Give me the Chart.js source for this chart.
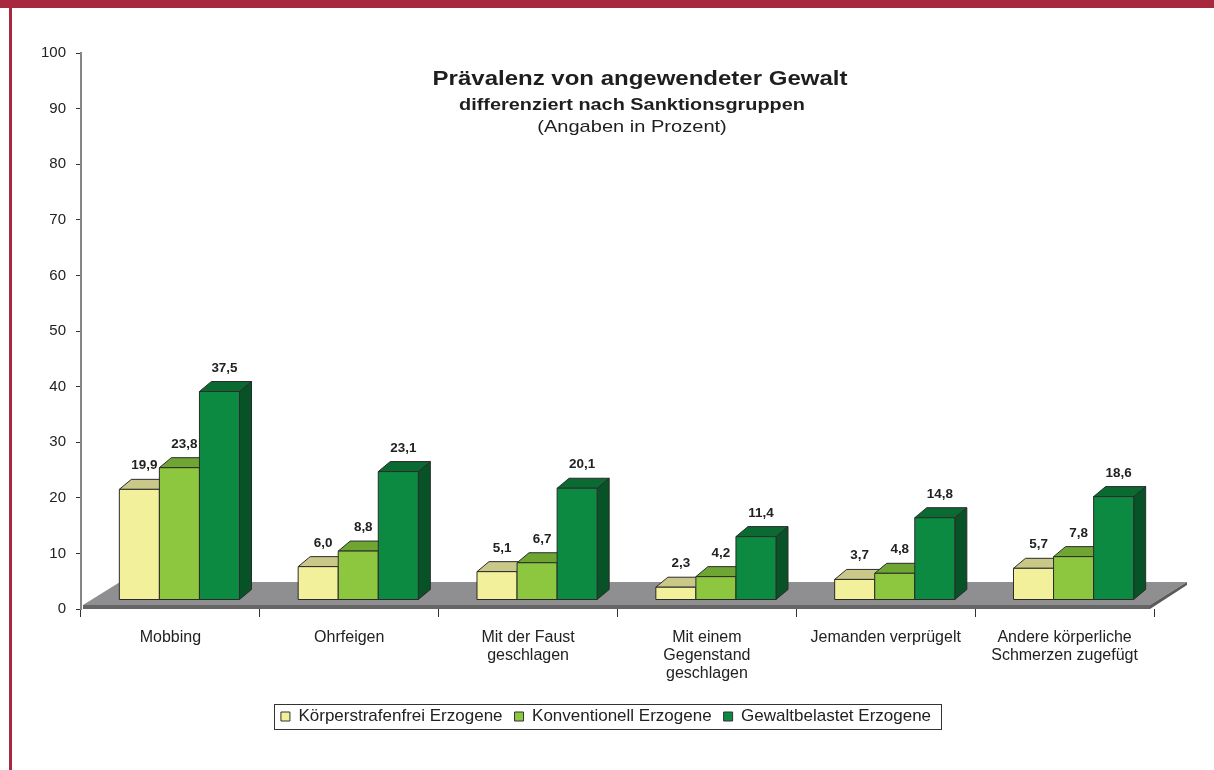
<!DOCTYPE html>
<html>
<head>
<meta charset="utf-8">
<script src="https://cdn.jsdelivr.net/npm/chart.js@4.4.1/dist/chart.umd.min.js"></script>
<style>
html,body{margin:0;padding:0;background:#fff;}
#wrap{position:relative;width:1214px;height:770px;}
canvas{display:block;}
</style>
</head>
<body>
<div id="wrap"><canvas id="c" width="1214" height="770"></canvas></div>
<script>
// ---- data ----
const categories = [
  'Mobbing',
  'Ohrfeigen',
  ['Mit der Faust', 'geschlagen'],
  ['Mit einem', 'Gegenstand', 'geschlagen'],
  'Jemanden verprügelt',
  ['Andere körperliche', 'Schmerzen zugefügt']
];
const seriesNames = ['Körperstrafenfrei Erzogene', 'Konventionell Erzogene', 'Gewaltbelastet Erzogene'];
const koerperstrafenfrei = [19.9, 6.0, 5.1, 2.3, 3.7, 5.7];
const konventionell      = [23.8, 8.8, 6.7, 4.2, 4.8, 7.8];
const gewaltbelastet     = [37.5, 23.1, 20.1, 11.4, 14.8, 18.6];
const yMin = 0, yMax = 100, yStep = 10;
const titleLines = [
  'Prävalenz von angewendeter Gewalt',
  'differenziert nach Sanktionsgruppen',
  '(Angaben in Prozent)'
];

// ---- styles ----
const FONT = "'Liberation Sans', Arial, Helvetica, sans-serif";
const palette = [
  { front: '#F3F09C', top: '#C9C889', side: '#B6B36C' },
  { front: '#8DC63F', top: '#6FA533', side: '#5B8A29' },
  { front: '#0C8A41', top: '#0B6A31', side: '#075227' }
];
const SHIFT = { x: 9, y: -9 };
const DEPTH = { x: 12, y: -10 };
const FLOOR = { x: 37, y: -23 };
const LEGEND_DX = 29;

function poly(ctx, pts, fill) {
  ctx.beginPath();
  ctx.moveTo(pts[0][0], pts[0][1]);
  for (let k = 1; k < pts.length; k++) ctx.lineTo(pts[k][0], pts[k][1]);
  ctx.closePath();
  ctx.fillStyle = fill;
  ctx.fill();
  ctx.stroke();
}

const bars3d = {
  id: 'bars3d',
  afterLayout(chart) {
    const lg = chart.legend;
    if (lg) { lg.left += LEGEND_DX; lg.right += LEGEND_DX; }
  },
  beforeDraw(chart) {
    const ctx = chart.ctx;
    ctx.save();
    ctx.fillStyle = '#ffffff';
    ctx.fillRect(0, 0, chart.width, chart.height);
    ctx.fillStyle = '#A8293F';
    ctx.fillRect(0, 0, chart.width, 8);
    ctx.fillRect(9, 0, 3, chart.height);
    ctx.restore();
  },
  beforeDatasetsDraw(chart) {
    const ctx = chart.ctx;
    const xs = chart.scales.x, ys = chart.scales.y;
    const y0 = ys.getPixelForValue(0);
    const l = xs.left + 2, r = xs.right - 4, t = y0 - 4;
    ctx.save();
    ctx.beginPath();
    ctx.moveTo(l, t); ctx.lineTo(r, t); ctx.lineTo(r + FLOOR.x, t + FLOOR.y); ctx.lineTo(l + FLOOR.x, t + FLOOR.y); ctx.closePath();
    ctx.fillStyle = '#8f8f92'; ctx.fill();
    ctx.fillStyle = '#656565';
    ctx.fillRect(l, t, r - l, 4);
    ctx.beginPath();
    ctx.moveTo(r, t); ctx.lineTo(r + FLOOR.x, t + FLOOR.y); ctx.lineTo(r + FLOOR.x, t + FLOOR.y + 3); ctx.lineTo(r, t + 4); ctx.closePath();
    ctx.fillStyle = '#5a5a5a'; ctx.fill();
    ctx.restore();
  },
  beforeDatasetDraw() { return false; },
  afterDatasetsDraw(chart) {
    const ctx = chart.ctx;
    const n = chart.data.labels.length;
    const metas = chart.data.datasets.map((d, i) => chart.getDatasetMeta(i));
    const boxes = [];
    ctx.save();
    ctx.lineWidth = 1;
    ctx.strokeStyle = '#2b2b2b';
    ctx.lineJoin = 'round';
    for (let j = 0; j < n; j++) {
      metas.forEach((meta, i) => {
        const el = meta.data[j];
        const p = el.getProps(['x', 'y', 'base', 'width'], true);
        const l = p.x - p.width / 2 + SHIFT.x, r = l + p.width;
        const t = p.y + SHIFT.y, b = p.base + SHIFT.y;
        const c = palette[i];
        poly(ctx, [[r, t], [r + DEPTH.x, t + DEPTH.y], [r + DEPTH.x, b + DEPTH.y], [r, b]], c.side);
        poly(ctx, [[l, t], [l + DEPTH.x, t + DEPTH.y], [r + DEPTH.x, t + DEPTH.y], [r, t]], c.top);
        poly(ctx, [[l, t], [r, t], [r, b], [l, b]], c.front);
        boxes.push({ cx: (l + r) / 2 + 5, ty: t + DEPTH.y, v: chart.data.datasets[i].data[j] });
      });
    }
    ctx.fillStyle = '#222222';
    ctx.font = 'bold 12px ' + FONT;
    ctx.textAlign = 'center';
    ctx.textBaseline = 'alphabetic';
    boxes.forEach(bx => {
      ctx.save();
      ctx.translate(bx.cx, bx.ty - 10);
      ctx.scale(1.12, 1);
      ctx.fillText(bx.v.toFixed(1).replace('.', ','), 0, 0);
      ctx.restore();
    });
    ctx.restore();
  },
  afterDraw(chart) {
    const ctx = chart.ctx;
    ctx.save();
    ctx.fillStyle = '#1e1e1e';
    ctx.textAlign = 'center';
    ctx.textBaseline = 'alphabetic';
    const specs = [
      { font: 'bold 20px ' + FONT, x: 640, y: 85, sx: 1.2 },
      { font: 'bold 17px ' + FONT, x: 632, y: 110, sx: 1.17 },
      { font: '17px ' + FONT, x: 632, y: 132, sx: 1.18 }
    ];
    titleLines.forEach((txt, k) => {
      const s = specs[k];
      ctx.save();
      ctx.font = s.font;
      ctx.translate(s.x, s.y);
      ctx.scale(s.sx, 1);
      ctx.fillText(txt, 0, 0);
      ctx.restore();
    });
    const lg = chart.legend;
    if (lg && lg.legendHitBoxes && lg.legendHitBoxes.length) {
      const hb = lg.legendHitBoxes;
      const first = hb[0], last = hb[hb.length - 1];
      const left = first.left - 7, right = last.left + last.width + 10;
      const cy = first.top + first.height / 2;
      ctx.strokeStyle = '#333333';
      ctx.lineWidth = 1;
      ctx.strokeRect(Math.round(left) + 0.5, Math.round(cy - 12.5) + 0.5, Math.round(right - left), 25);
    }
    ctx.restore();
  }
};

const ctx = document.getElementById('c').getContext('2d');
new Chart(ctx, {
  type: 'bar',
  data: {
    labels: categories,
    datasets: [
      { label: seriesNames[0], data: koerperstrafenfrei, backgroundColor: palette[0].front, borderColor: '#333333', borderWidth: 1 },
      { label: seriesNames[1], data: konventionell, backgroundColor: palette[1].front, borderColor: '#333333', borderWidth: 1 },
      { label: seriesNames[2], data: gewaltbelastet, backgroundColor: palette[2].front, borderColor: '#333333', borderWidth: 1 }
    ]
  },
  options: {
    responsive: false,
    animation: false,
    devicePixelRatio: 1,
    layout: { padding: { left: 0, right: 60, top: 53, bottom: 35 } },
    datasets: { bar: { barPercentage: 1.0, categoryPercentage: 0.672 } },
    plugins: {
      legend: {
        display: true,
        position: 'bottom',
        labels: {
          font: { family: FONT, size: 17 },
          color: '#222222',
          boxWidth: 9,
          boxHeight: 9,
          padding: 12
        }
      },
      title: { display: false },
      tooltip: { enabled: false }
    },
    scales: {
      x: {
        afterFit(scale) { scale.height += 1; },
        grid: { display: true, drawOnChartArea: false, drawTicks: true, tickLength: 8, color: '#333333', offset: true },
        border: { display: false },
        ticks: { font: { family: FONT, size: 16, lineHeight: 1.125 }, color: '#222222', padding: 12, maxRotation: 0, autoSkip: false }
      },
      y: {
        min: yMin, max: yMax,
        afterFit(scale) { scale.width = 81; },
        grid: { display: true, drawOnChartArea: false, drawTicks: true, tickLength: 5, color: '#333333' },
        border: { display: true, color: '#858585', width: 2 },
        ticks: { stepSize: yStep, font: { family: FONT, size: 15 }, color: '#222222', padding: 10 }
      }
    }
  },
  plugins: [bars3d]
});
</script>
</body>
</html>
